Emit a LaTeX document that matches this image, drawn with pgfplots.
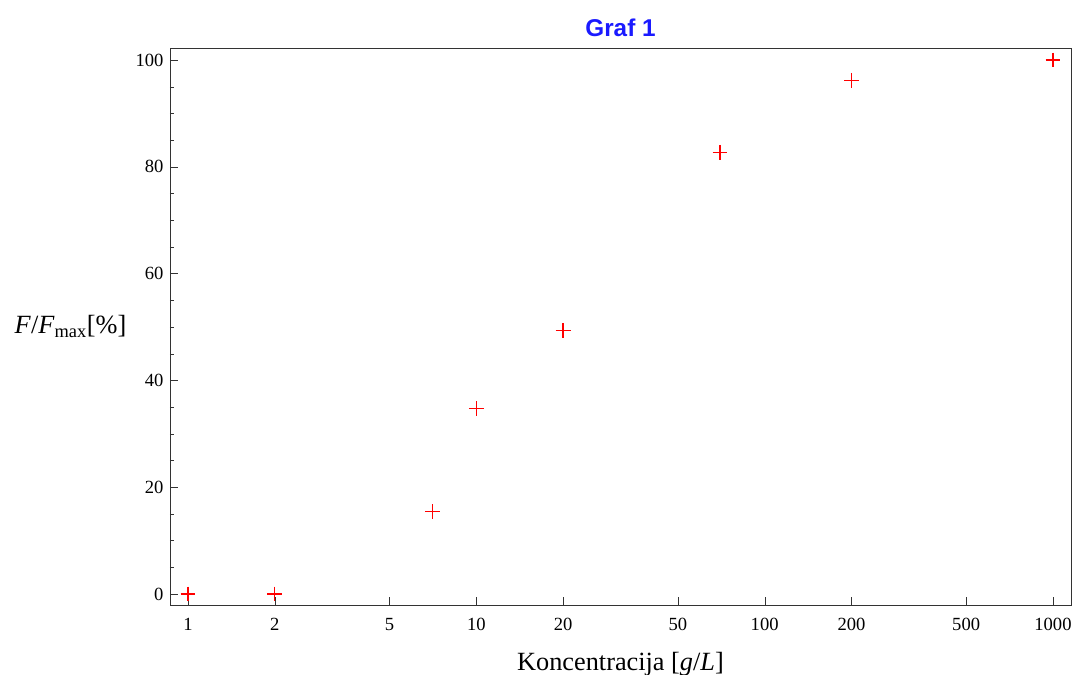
\documentclass[border=0pt]{standalone}
\usepackage{fontspec}
\setmainfont{Liberation Serif}
\newfontfamily\titlefont{Liberation Sans}
\usepackage{pgfplots}
\pgfplotsset{compat=1.18}
\definecolor{mred}{RGB}{255,0,0}
\definecolor{tblue}{RGB}{26,26,255}

\begin{document}
\begin{tikzpicture}
\begin{axis}[
  name=main,
  scale only axis,
  width=630.7pt, height=389.9pt,
  xmode=log,
  xmin=0.866, xmax=1155,
  ymin=-2.06, ymax=102.25,
  xtick={1,2,5,10,20,50,100,200,500,1000},
  xticklabels={1,2,5,10,20,50,100,200,500,1000},
  ytick={0,20,40,60,80,100},
  minor y tick num=3,
  minor x tick num=0,
  tick pos=left,
  tick align=inside,
  major tick length=5.6pt,
  minor tick length=3pt,
  axis line style={black!80},
  tick style={black!80},
  /pgf/number format/assume math mode=true,
  tick label style={font=\fontsize{13}{15}\selectfont},
  xticklabel style={yshift=-6pt},
  yticklabel style={xshift=-1pt},
  xlabel={Koncentracija [\textit{g}/\textit{L}]},
  xlabel style={font=\fontsize{18.4}{20}\selectfont, yshift=-8pt},
  ylabel={\textit{F}/\textit{F}\textsubscript{max}[\%]},
  ylabel style={font=\fontsize{18.4}{20}\selectfont, rotate=-90, anchor=east, at={(rel axis cs:0,0.5)}, xshift=-27pt},
  title={\titlefont\bfseries Graf 1},
  title style={font=\fontsize{17}{19}\selectfont, text=tblue, yshift=-1.5pt},
]
\addplot[only marks, mark=+, mark size=5.2pt, mred, mark options={solid, draw=mred, line width=0.9pt}] coordinates {
  (1,0) (2,0) (7.03,15.45) (10,34.7) (20,49.4) (70,82.7) (200,96.2) (1000,100)
};
\end{axis}
\pgfresetboundingbox
\path (main.south west) ++(-119pt,-49pt) coordinate (bl);
\path (main.north east) ++(4.2pt,33.6pt) coordinate (tr);
\path (bl) rectangle (tr);
\end{tikzpicture}
\end{document}
